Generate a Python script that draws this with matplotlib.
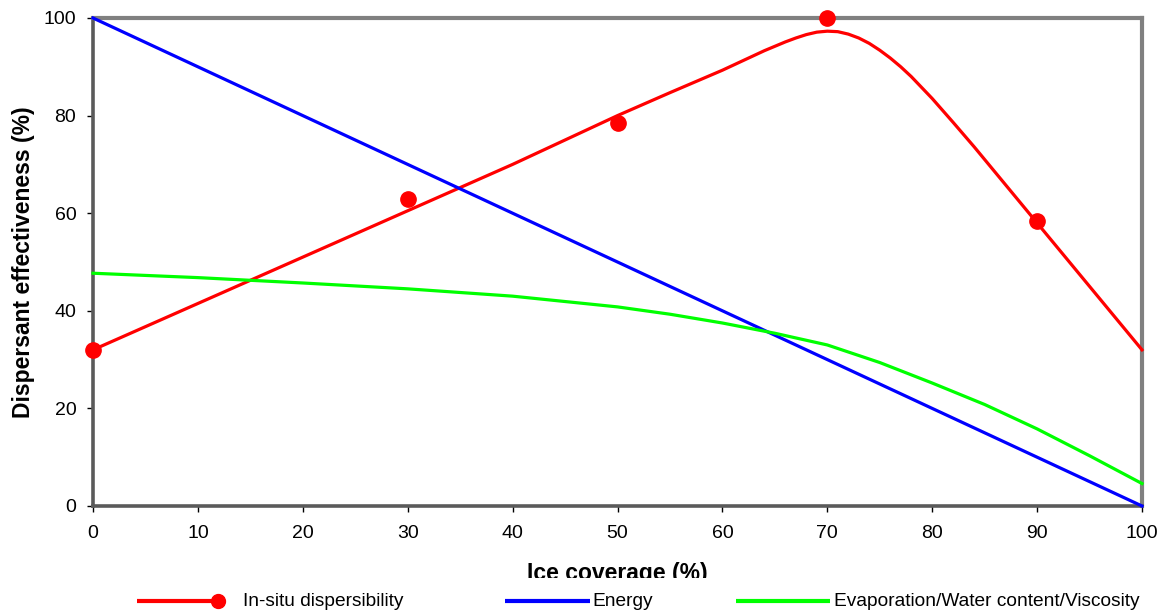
import matplotlib
matplotlib.use("Agg")
import matplotlib.pyplot as plt
from matplotlib.lines import Line2D
from matplotlib.patches import Rectangle

plt.rcParams['font.family'] = ['Liberation Sans', 'DejaVu Sans']

# Measured in-situ dispersibility
obs_x = [0, 30, 50, 70, 90]
obs_y = [32, 63, 78.5, 100, 58.5]

# Fitted in-situ dispersibility curve
fit_x = [0, 10, 20, 30, 40, 50, 55, 60, 62, 64, 66, 67, 68, 69, 70, 71, 72, 73, 74, 75,
         76, 77, 78, 80, 82, 84, 86, 88, 90, 95, 100]
fit_y = [32, 41.5, 51, 60.5, 70, 80, 84.7, 89.3, 91.3, 93.3, 95.1, 95.9, 96.6, 97.1, 97.3,
         97.2, 96.7, 95.9, 94.8, 93.4, 91.8, 90.0, 88.0, 83.5, 78.6, 73.6, 68.4, 63.2, 58,
         45, 32]

# Energy
energy_x = [0, 100]
energy_y = [100, 0]

# Evaporation / water content / viscosity
evap_x = [0, 10, 20, 30, 40, 50, 55, 60, 65, 70, 75, 80, 85, 90, 95, 100]
evap_y = [47.7, 46.8, 45.7, 44.5, 43.0, 40.8, 39.3, 37.5, 35.4, 33.0, 29.4, 25.2, 20.8,
          15.8, 10.3, 4.6]

x_ticks = list(range(0, 101, 10))
y_ticks = list(range(0, 101, 20))

RED = '#ff0000'
BLUE = '#0000ff'
GREEN = '#00ff00'

fig = plt.figure(figsize=(11.6, 6.12), dpi=100)
ax = fig.add_axes([93 / 1160, 106 / 612, 1049 / 1160, 488 / 612])

ax.plot(fit_x, fit_y, color=RED, lw=2.3, clip_on=False, zorder=3)
ax.plot(obs_x, obs_y, 'o', color=RED, ms=11, clip_on=False, zorder=4)
ax.plot(energy_x, energy_y, color=BLUE, lw=2.3, clip_on=False, zorder=3)
ax.plot(evap_x, evap_y, color=GREEN, lw=2.3, clip_on=False, zorder=3)

ax.set_xlim(0, 100)
ax.set_ylim(0, 100)
ax.set_xticks(x_ticks)
ax.set_yticks(y_ticks)
ax.tick_params(direction='out', length=4, width=1, labelsize=14, colors='black')
ax.tick_params(axis='y', pad=8)
ax.tick_params(axis='x', pad=10)

for side in ('top', 'right'):
    ax.spines[side].set_color('#808080')
    ax.spines[side].set_linewidth(3)
for side in ('left', 'bottom'):
    ax.spines[side].set_color('#5a5a5a')
    ax.spines[side].set_linewidth(2.6)

ax.set_ylabel('Dispersant effectiveness (%)', fontsize=16.5, fontweight='bold', labelpad=6)
ax.set_xlabel('Ice coverage (%)', fontsize=16.5, fontweight='bold', labelpad=14)

# Legend row along the bottom edge, drawn over the lower part of the x label
fig.add_artist(Rectangle((0, 0), 1, 34 / 612, transform=fig.transFigure,
                         facecolor='white', edgecolor='none', zorder=5))
ly = 11 / 612
entries = [
    (137, 218, 243, RED, True, 'In-situ dispersibility'),
    (505, 590, 592, BLUE, False, 'Energy'),
    (736, 830, 834, GREEN, False, 'Evaporation/Water content/Viscosity'),
]
for x0, x1, xt, col, marker, label in entries:
    fig.add_artist(Line2D([x0 / 1160, x1 / 1160], [ly, ly], transform=fig.transFigure,
                          color=col, lw=3, solid_capstyle='butt', zorder=6))
    if marker:
        fig.add_artist(Line2D([x1 / 1160], [ly], transform=fig.transFigure, marker='o',
                              color=col, ms=10, zorder=7))
    fig.text(xt / 1160, ly, label, fontsize=13.8, va='center', ha='left', zorder=7)

fig.savefig('out.png', dpi=100)
